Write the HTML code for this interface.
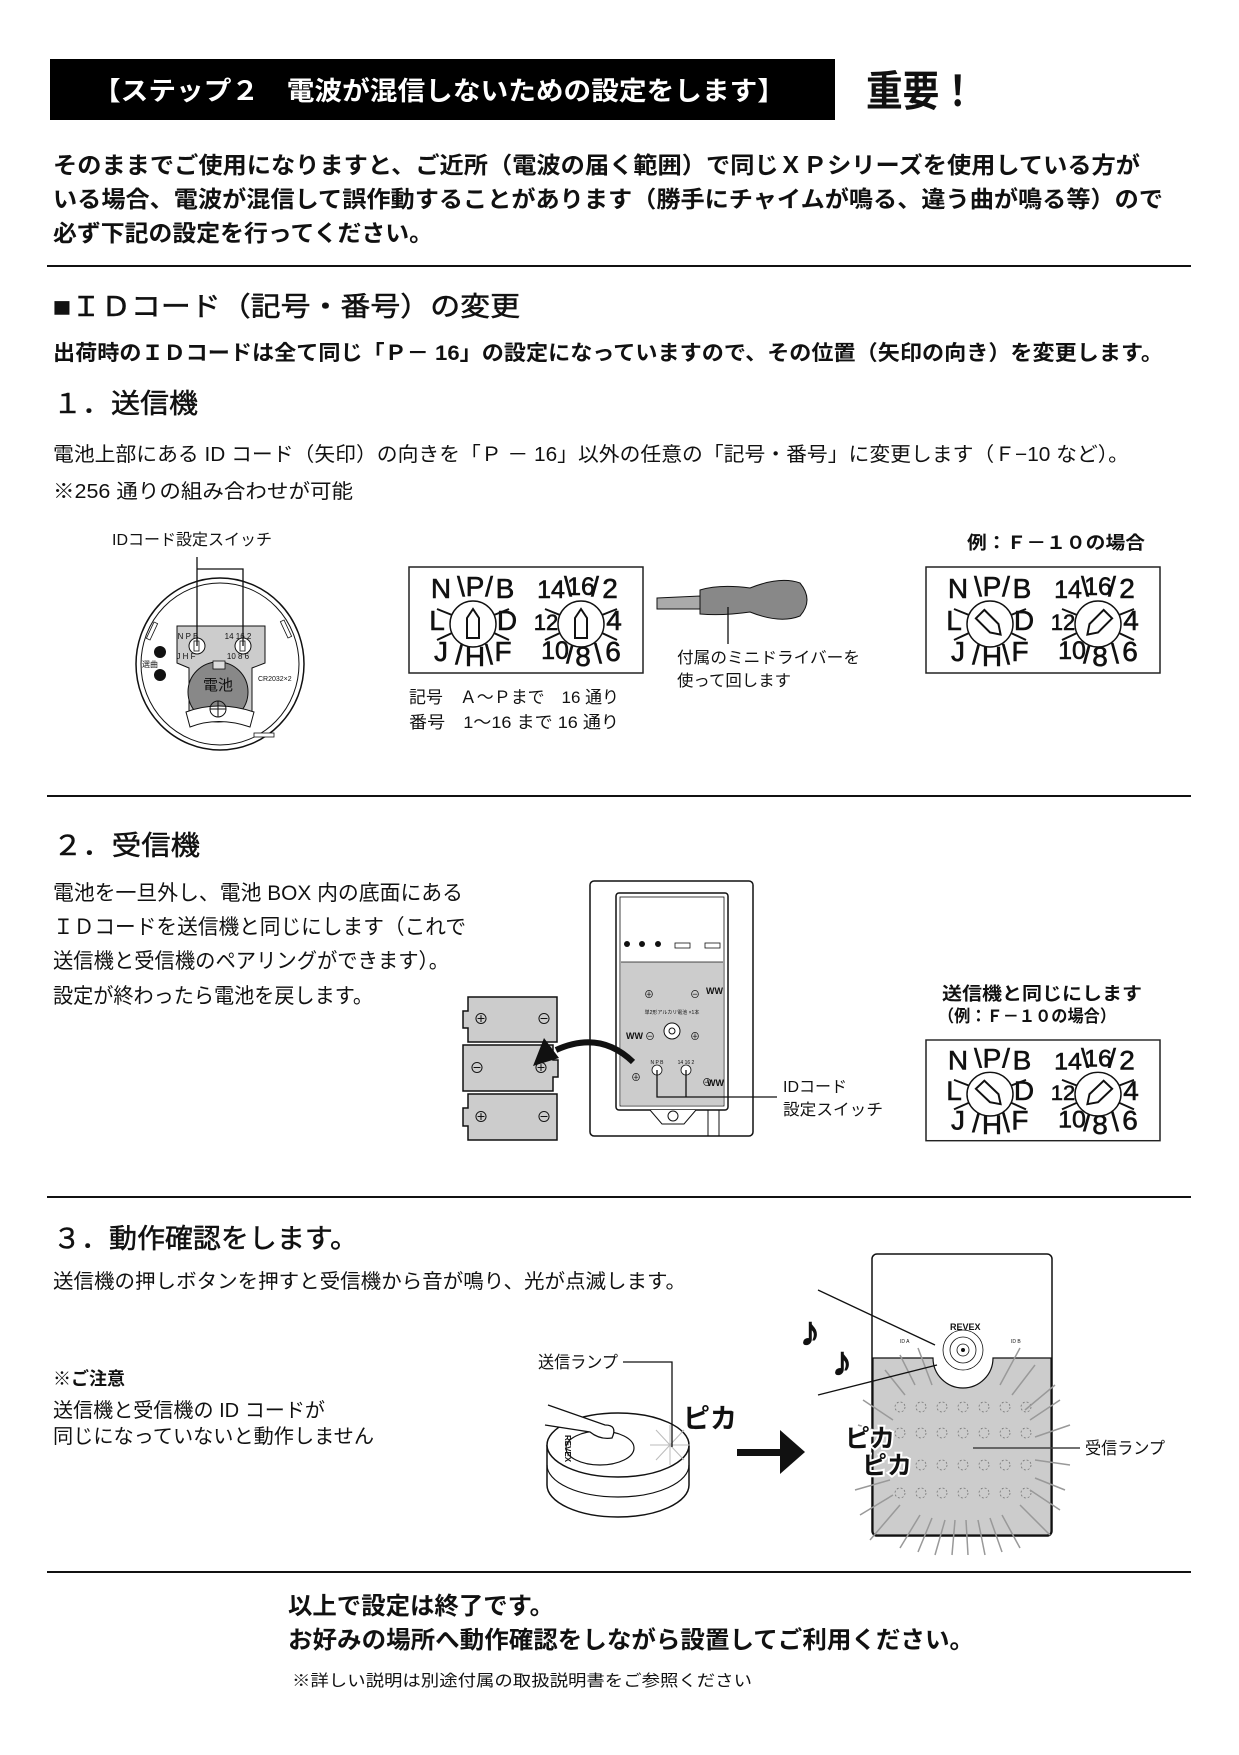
<!DOCTYPE html>
<html><head><meta charset="utf-8"><style>
html,body{margin:0;padding:0;background:#fff}
svg{display:block}
text{font-family:"Liberation Sans","Noto Sans CJK JP",sans-serif;fill:#111}
.b{font-weight:bold}
.h{stroke:#111;stroke-width:0.5}
.dl text{stroke:#111;stroke-width:0.6}
</style></head><body>
<svg width="1239" height="1755" viewBox="0 0 1239 1755" xmlns="http://www.w3.org/2000/svg">
<defs>
<g id="dialbase">
  <rect x="0" y="0" width="234" height="106" fill="#fff" stroke="#222" stroke-width="1.5"/>
  <g font-size="28" text-anchor="middle" class="dl">
    <text x="32" y="31">N</text><text x="52" y="29">\</text><text x="66" y="29">P</text><text x="80" y="29">/</text><text x="96" y="31">B</text>
    <text x="28" y="63">L</text><text x="98" y="63">D</text>
    <text x="32" y="94">J</text><text x="50" y="97">/</text><text x="66" y="99">H</text><text x="80" y="97">\</text><text x="94" y="94">F</text>
    <text x="142" y="31" font-size="25">14</text><text x="159" y="29">\</text><text x="172" y="28" font-size="25">16</text><text x="186" y="29">/</text><text x="201" y="31">2</text>
    <text x="137" y="63" font-size="22">12</text><text x="205" y="63">4</text>
    <text x="146" y="92" font-size="25">10</text><text x="161" y="96">/</text><text x="174" y="99">8</text><text x="189" y="96">\</text><text x="204" y="94">6</text>
  </g>
  <g stroke="#111" stroke-width="2">
    <line x1="28" y1="42" x2="43" y2="48"/><line x1="28" y1="73" x2="43" y2="66"/>
    <line x1="85" y1="48" x2="100" y2="42"/><line x1="85" y1="66" x2="100" y2="73"/>
    <line x1="136" y1="42" x2="151" y2="48"/><line x1="136" y1="73" x2="151" y2="66"/>
    <line x1="193" y1="48" x2="208" y2="42"/><line x1="193" y1="66" x2="208" y2="73"/>
  </g>
  <circle cx="64" cy="57" r="23" fill="#fff" stroke="#111" stroke-width="1.5"/>
  <circle cx="172" cy="57" r="23" fill="#fff" stroke="#111" stroke-width="1.5"/>
</g>
<path id="ptr" d="M-6,14 L-6,-6 L0,-15 L6,-6 L6,14 Z" fill="#fff" stroke="#111" stroke-width="2"/>
</defs>

<rect x="50" y="59" width="785" height="61" fill="#000"/>
<text x="93" y="100" font-size="26" class="b" style="fill:#fff" textLength="692" lengthAdjust="spacingAndGlyphs">【ステップ２　電波が混信しないための設定をします】</text>
<text x="866" y="106" font-size="42" class="b" textLength="110" lengthAdjust="spacingAndGlyphs">重要！</text>

<text x="53" y="173" font-size="23" class="b" textLength="1087" lengthAdjust="spacingAndGlyphs">そのままでご使用になりますと、ご近所（電波の届く範囲）で同じＸＰシリーズを使用している方が</text>
<text x="53" y="207" font-size="23" class="b" textLength="1110" lengthAdjust="spacingAndGlyphs">いる場合、電波が混信して誤作動することがあります（勝手にチャイムが鳴る、違う曲が鳴る等）ので</text>
<text x="53" y="241" font-size="23" class="b" textLength="380" lengthAdjust="spacingAndGlyphs">必ず下記の設定を行ってください。</text>
<rect x="47" y="265" width="1144" height="2" fill="#111"/>

<text x="53" y="316" font-size="27" class="h" textLength="467" lengthAdjust="spacingAndGlyphs">■ＩＤコード（記号・番号）の変更</text>
<text x="53" y="360" font-size="21" class="b" textLength="1110" lengthAdjust="spacingAndGlyphs">出荷時のＩＤコードは全て同じ「Ｐ－ 16」の設定になっていますので、その位置（矢印の向き）を変更します。</text>
<text x="53" y="413" font-size="27" class="h" textLength="145" lengthAdjust="spacingAndGlyphs">１．送信機</text>
<text x="53" y="461" font-size="20" textLength="1076" lengthAdjust="spacingAndGlyphs">電池上部にある ID コード（矢印）の向きを「Ｐ － 16」以外の任意の「記号・番号」に変更します（Ｆ−10 など）。</text>
<text x="53" y="498" font-size="20" textLength="300" lengthAdjust="spacingAndGlyphs">※256 通りの組み合わせが可能</text>

<text x="112" y="545" font-size="16" textLength="160" lengthAdjust="spacingAndGlyphs">IDコード設定スイッチ</text>
<ellipse cx="220" cy="664" rx="84" ry="86" fill="#fff" stroke="#111" stroke-width="1.5"/>
<ellipse cx="220" cy="664" rx="79" ry="81" fill="none" stroke="#111" stroke-width="1"/>
<path d="M177,626 H265 V663 L252,668 V712 H189 V668 L177,663 Z" fill="#ccc" stroke="#111" stroke-width="1"/>
<circle cx="218" cy="692" r="30" fill="#888" stroke="#111"/>
<path d="M186,712 Q218,700 254,712 L250,727 Q218,716 190,727 Z" fill="#fff" stroke="#111"/>
<rect x="213" y="661" width="12" height="8" fill="#ddd" stroke="#111" stroke-width="0.8"/>
<text x="218" y="690" font-size="15" text-anchor="middle">電池</text>
<circle cx="218" cy="709" r="8" fill="none" stroke="#111"/><line x1="210" y1="709" x2="226" y2="709" stroke="#111"/><line x1="218" y1="701" x2="218" y2="717" stroke="#111"/>
<g font-size="8" text-anchor="middle">
<text x="188" y="639">N P B</text><text x="238" y="639">14 16 2</text>
<text x="186" y="659">J H F</text><text x="238" y="659">10 8 6</text>
</g>
<circle cx="197" cy="646" r="8" fill="#fff" stroke="#111"/><circle cx="243" cy="646" r="8" fill="#fff" stroke="#111"/>
<rect x="194" y="641" width="5" height="10" fill="#fff" stroke="#111" stroke-width="0.8"/><rect x="240" y="641" width="5" height="10" fill="#fff" stroke="#111" stroke-width="0.8"/>
<polyline points="197,557 197,646" fill="none" stroke="#111" stroke-width="1.3"/>
<polyline points="197,569 243,569 243,646" fill="none" stroke="#111" stroke-width="1.3"/>
<circle cx="160" cy="652" r="6" fill="#111"/><circle cx="160" cy="675" r="6" fill="#111"/>
<text x="142" y="667" font-size="8">選曲</text>
<text x="258" y="681" font-size="7">CR2032×2</text>
<rect x="150" y="622" width="4" height="18" fill="#fff" stroke="#111" stroke-width="0.8" transform="rotate(25 152 631)"/>
<rect x="284" y="620" width="4" height="18" fill="#fff" stroke="#111" stroke-width="0.8" transform="rotate(-25 286 629)"/>
<rect x="254" y="733" width="20" height="4" fill="#fff" stroke="#111" stroke-width="0.8"/>

<g transform="translate(409,567)"><use href="#dialbase"/>
<use href="#ptr" transform="translate(64,57)"/><use href="#ptr" transform="translate(172,57)"/></g>
<text x="409" y="703" font-size="17" textLength="210" lengthAdjust="spacingAndGlyphs">記号　Ａ～Ｐまで　16 通り</text>
<text x="409" y="728" font-size="17" textLength="210" lengthAdjust="spacingAndGlyphs">番号　1～16 まで 16 通り</text>

<path d="M657,598 L700,596 L700,609 L657,609 Z" fill="#aaa" stroke="#111"/>
<path d="M700,590 Q720,584 750,588 Q780,576 800,583 Q814,600 800,616 Q780,624 750,612 Q722,616 700,614 Z" fill="#888" stroke="#111"/>
<line x1="728" y1="607" x2="728" y2="644" stroke="#111" stroke-width="1.3"/>
<text x="677" y="663" font-size="16" textLength="183" lengthAdjust="spacingAndGlyphs">付属のミニドライバーを</text>
<text x="677" y="686" font-size="16" textLength="114" lengthAdjust="spacingAndGlyphs">使って回します</text>

<text x="967" y="549" font-size="18" class="b" textLength="178" lengthAdjust="spacingAndGlyphs">例：Ｆ－１０の場合</text>
<g transform="translate(926,567)"><use href="#dialbase"/>
<use href="#ptr" transform="translate(64,57) rotate(135)"/><use href="#ptr" transform="translate(172,57) rotate(225)"/></g>

<rect x="47" y="795" width="1144" height="2" fill="#111"/>

<text x="53" y="855" font-size="27" class="h" textLength="147" lengthAdjust="spacingAndGlyphs">２．受信機</text>
<text x="53" y="900" font-size="21" textLength="410" lengthAdjust="spacingAndGlyphs">電池を一旦外し、電池 BOX 内の底面にある</text>
<text x="53" y="934" font-size="21" textLength="413" lengthAdjust="spacingAndGlyphs">ＩＤコードを送信機と同じにします（これで</text>
<text x="53" y="968" font-size="21" textLength="396" lengthAdjust="spacingAndGlyphs">送信機と受信機のペアリングができます）。</text>
<text x="53" y="1003" font-size="21" textLength="320" lengthAdjust="spacingAndGlyphs">設定が終わったら電池を戻します。</text>

<rect x="590" y="881" width="163" height="255" rx="4" fill="#fff" stroke="#111" stroke-width="1.5"/>
<rect x="616" y="893" width="112" height="217" rx="3" fill="#fff" stroke="#111" stroke-width="1.5"/>
<rect x="620" y="897" width="104" height="209" fill="#fff" stroke="#111" stroke-width="0.8"/>
<rect x="621" y="962" width="102" height="143" fill="#ccc"/>
<line x1="621" y1="962" x2="723" y2="962" stroke="#111" stroke-width="0.8"/>
<circle cx="627" cy="944" r="3" fill="#111"/><circle cx="642" cy="944" r="3" fill="#111"/><circle cx="658" cy="944" r="3" fill="#111"/>
<rect x="675" y="943" width="15" height="5" fill="#fff" stroke="#111" stroke-width="0.8"/><rect x="705" y="943" width="15" height="5" fill="#fff" stroke="#111" stroke-width="0.8"/>
<g font-size="10" text-anchor="middle"><text x="649" y="998">⊕</text><text x="695" y="998">⊖</text><text x="650" y="1040">⊖</text><text x="695" y="1040">⊕</text><text x="636" y="1081">⊕</text><text x="707" y="1086">⊖</text></g>
<text x="672" y="1014" font-size="5" text-anchor="middle">単2形アルカリ電池 ×1本</text>
<circle cx="672" cy="1031" r="8" fill="#fff" stroke="#111"/><circle cx="672" cy="1031" r="3" fill="none" stroke="#111"/>
<text x="626" y="1039" font-size="9" class="b">WW</text><text x="706" y="994" font-size="9" class="b">WW</text><text x="707" y="1086" font-size="9" class="b">WW</text>
<circle cx="657" cy="1070" r="5" fill="#fff" stroke="#111" stroke-width="0.8"/><circle cx="686" cy="1070" r="5" fill="#fff" stroke="#111" stroke-width="0.8"/>
<text x="657" y="1064" font-size="5" text-anchor="middle">N P B</text><text x="686" y="1064" font-size="5" text-anchor="middle">14 16 2</text>
<path d="M650,1110 L662,1124 H684 L696,1110" fill="#fff" stroke="#111"/>
<circle cx="673" cy="1116" r="5" fill="none" stroke="#111"/>
<line x1="708" y1="1110" x2="708" y2="1136" stroke="#111"/><line x1="719" y1="1110" x2="719" y2="1136" stroke="#111"/>
<polyline points="657,1070 657,1097 777,1097" fill="none" stroke="#111" stroke-width="1.3"/>
<line x1="686" y1="1070" x2="686" y2="1097" stroke="#111" stroke-width="1.3"/>
<text x="783" y="1092" font-size="16">IDコード</text>
<text x="783" y="1115" font-size="16" textLength="100" lengthAdjust="spacingAndGlyphs">設定スイッチ</text>

<g stroke="#111" stroke-width="1.5" fill="#ccc">
<path d="M468,997 H557 V1042 H468 V1028 H463 V1011 H468 Z"/>
<path d="M463,1045 H553 V1060 H558 V1077 H553 V1091 H463 Z"/>
<path d="M468,1094 H557 V1140 H468 V1126 H463 V1108 H468 Z"/>
</g>
<g font-size="15" text-anchor="middle"><text x="481" y="1024">⊕</text><text x="544" y="1024">⊖</text><text x="477" y="1073">⊖</text><text x="541" y="1073">⊕</text><text x="481" y="1122">⊕</text><text x="544" y="1122">⊖</text></g>
<path d="M633,1062 Q600,1030 556,1050" fill="none" stroke="#111" stroke-width="6"/>
<path d="M533,1066 L544,1038 L559,1058 Z" fill="#111"/>

<text x="942" y="1000" font-size="18" class="b" textLength="200" lengthAdjust="spacingAndGlyphs">送信機と同じにします</text>
<text x="938" y="1022" font-size="17" class="b" textLength="178" lengthAdjust="spacingAndGlyphs">（例：Ｆ－１０の場合）</text>
<g transform="translate(926,1040) scale(1,0.95)"><use href="#dialbase"/>
<use href="#ptr" transform="translate(64,57) rotate(135)"/><use href="#ptr" transform="translate(172,57) rotate(225)"/></g>

<rect x="47" y="1196" width="1144" height="2" fill="#111"/>

<text x="53" y="1248" font-size="27" class="h" textLength="305" lengthAdjust="spacingAndGlyphs">３．動作確認をします。</text>
<text x="53" y="1288" font-size="20" textLength="633" lengthAdjust="spacingAndGlyphs">送信機の押しボタンを押すと受信機から音が鳴り、光が点滅します。</text>
<text x="53" y="1385" font-size="18" class="b">※ご注意</text>
<text x="53" y="1417" font-size="20" textLength="272" lengthAdjust="spacingAndGlyphs">送信機と受信機の ID コードが</text>
<text x="53" y="1443" font-size="20" textLength="321" lengthAdjust="spacingAndGlyphs">同じになっていないと動作しません</text>

<text x="538" y="1368" font-size="17" textLength="80" lengthAdjust="spacingAndGlyphs">送信ランプ</text>
<path d="M547,1445 V1485 A71,32 0 0 0 689,1485 V1445" fill="#fff" stroke="#111" stroke-width="1.5"/>
<path d="M547,1465 A71,32 0 0 0 689,1465" fill="none" stroke="#111" stroke-width="1.2"/>
<ellipse cx="618" cy="1445" rx="71" ry="32" fill="#fff" stroke="#111" stroke-width="1.5"/>
<ellipse cx="600" cy="1448" rx="34" ry="17" fill="#fff" stroke="#111" stroke-width="1.2"/>
<path d="M548,1405 Q585,1418 605,1425 Q618,1425 612,1438 Q600,1440 590,1432 L545,1425" fill="#fff" stroke="#111" stroke-width="1.3"/>
<text x="560" y="1440" font-size="8" class="b" transform="rotate(90 565 1440)">REVEX</text>
<g stroke="#bbb" stroke-width="1"><line x1="670" y1="1425" x2="670" y2="1465"/><line x1="650" y1="1445" x2="690" y2="1445"/><line x1="656" y1="1430" x2="684" y2="1460"/><line x1="684" y1="1430" x2="656" y2="1460"/></g>
<polyline points="623,1362 672,1362 672,1447" fill="none" stroke="#111" stroke-width="1.3"/>
<text x="683" y="1428" font-size="27" class="b">ピカ</text>
<rect x="737" y="1449" width="45" height="7" fill="#111"/>
<path d="M780,1430 L805,1452 L780,1474 Z" fill="#111"/>

<rect x="872" y="1254" width="180" height="282" rx="5" fill="#fff" stroke="#111" stroke-width="1.5"/>
<path d="M873,1358 H933 A30,30 0 0 0 993,1358 H1051 V1531 Q1051,1535 1047,1535 H877 Q873,1535 873,1531 Z" fill="#ccc" stroke="#111" stroke-width="1.2"/>
<circle cx="963" cy="1350" r="20" fill="#fff" stroke="#111" stroke-width="0.8"/>
<circle cx="963" cy="1350" r="13" fill="none" stroke="#111" stroke-width="0.8"/>
<circle cx="963" cy="1350" r="6" fill="none" stroke="#111" stroke-width="0.8"/>
<circle cx="963" cy="1350" r="2" fill="#111"/>
<text x="950" y="1330" font-size="9" class="b">REVEX</text>
<text x="900" y="1343" font-size="5">ID A</text><text x="1011" y="1343" font-size="5">ID B</text>
<g fill="none" stroke="#777" stroke-width="0.8" stroke-dasharray="2,2">
<circle cx="900" cy="1407" r="5"/><circle cx="921" cy="1407" r="5"/><circle cx="942" cy="1407" r="5"/><circle cx="963" cy="1407" r="5"/><circle cx="984" cy="1407" r="5"/><circle cx="1005" cy="1407" r="5"/><circle cx="1026" cy="1407" r="5"/>
<circle cx="900" cy="1433" r="5"/><circle cx="921" cy="1433" r="5"/><circle cx="942" cy="1433" r="5"/><circle cx="963" cy="1433" r="5"/><circle cx="984" cy="1433" r="5"/><circle cx="1005" cy="1433" r="5"/><circle cx="1026" cy="1433" r="5"/>
<circle cx="900" cy="1465" r="5"/><circle cx="921" cy="1465" r="5"/><circle cx="942" cy="1465" r="5"/><circle cx="963" cy="1465" r="5"/><circle cx="984" cy="1465" r="5"/><circle cx="1005" cy="1465" r="5"/><circle cx="1026" cy="1465" r="5"/>
<circle cx="900" cy="1493" r="5"/><circle cx="921" cy="1493" r="5"/><circle cx="942" cy="1493" r="5"/><circle cx="963" cy="1493" r="5"/><circle cx="984" cy="1493" r="5"/><circle cx="1005" cy="1493" r="5"/><circle cx="1026" cy="1493" r="5"/>
</g>
<g stroke="#999" stroke-width="1.5">
<line x1="900" y1="1355" x2="915" y2="1385"/><line x1="918" y1="1348" x2="932" y2="1385"/><line x1="885" y1="1370" x2="905" y2="1395"/>
<line x1="1020" y1="1348" x2="1000" y2="1385"/><line x1="1035" y1="1365" x2="1012" y2="1395"/><line x1="1055" y1="1385" x2="1025" y2="1410"/>
<line x1="1060" y1="1400" x2="1030" y2="1420"/><line x1="1070" y1="1425" x2="1035" y2="1437"/><line x1="1070" y1="1465" x2="1035" y2="1460"/><line x1="1065" y1="1490" x2="1035" y2="1478"/><line x1="1060" y1="1510" x2="1030" y2="1490"/><line x1="1050" y1="1535" x2="1020" y2="1505"/>
<line x1="863" y1="1400" x2="893" y2="1420"/><line x1="858" y1="1425" x2="890" y2="1435"/><line x1="855" y1="1490" x2="890" y2="1480"/><line x1="860" y1="1515" x2="893" y2="1495"/><line x1="870" y1="1540" x2="900" y2="1505"/>
<line x1="900" y1="1548" x2="920" y2="1515"/><line x1="918" y1="1552" x2="932" y2="1518"/><line x1="935" y1="1555" x2="945" y2="1520"/><line x1="952" y1="1555" x2="955" y2="1520"/><line x1="968" y1="1555" x2="966" y2="1520"/><line x1="985" y1="1555" x2="978" y2="1520"/><line x1="1002" y1="1552" x2="990" y2="1518"/><line x1="1020" y1="1548" x2="1002" y2="1515"/>
</g>
<line x1="818" y1="1290" x2="935" y2="1345" stroke="#111" stroke-width="1.3"/>
<line x1="818" y1="1395" x2="937" y2="1365" stroke="#111" stroke-width="1.3"/>
<text x="800" y="1345" font-size="40" class="b" style="stroke:#111;stroke-width:1.5">♪</text>
<text x="832" y="1375" font-size="40" class="b" style="stroke:#111;stroke-width:1.5">♪</text>
<text x="845" y="1447" font-size="25" class="b" style="stroke:#fff;stroke-width:4;paint-order:stroke">ピカ</text>
<text x="862" y="1474" font-size="25" class="b" style="stroke:#fff;stroke-width:4;paint-order:stroke">ピカ</text>
<line x1="973" y1="1448" x2="1080" y2="1448" stroke="#444" stroke-width="1.5"/>
<text x="1085" y="1454" font-size="17" textLength="80" lengthAdjust="spacingAndGlyphs">受信ランプ</text>

<rect x="47" y="1571" width="1144" height="2" fill="#111"/>
<text x="288" y="1614" font-size="24" class="b" textLength="266" lengthAdjust="spacingAndGlyphs">以上で設定は終了です。</text>
<text x="288" y="1648" font-size="24" class="b" textLength="686" lengthAdjust="spacingAndGlyphs">お好みの場所へ動作確認をしながら設置してご利用ください。</text>
<text x="292" y="1686" font-size="16" textLength="460" lengthAdjust="spacingAndGlyphs">※詳しい説明は別途付属の取扱説明書をご参照ください</text>
</svg>
</body></html>
